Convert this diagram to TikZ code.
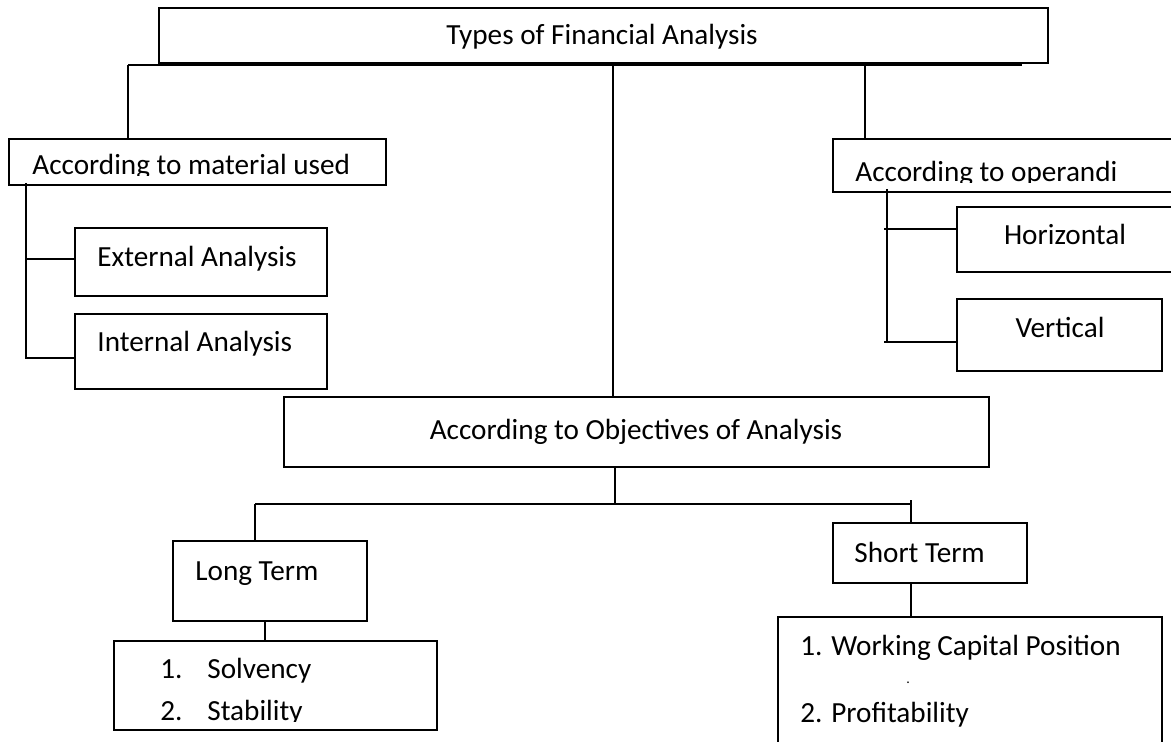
\documentclass[tikz,border=0pt]{standalone}
\usepackage{fontspec}
\setmainfont{Carlito}
\usetikzlibrary{calc}

\begin{document}
\begin{tikzpicture}[x=0.5pt,y=-0.5pt,
    box/.style={draw,line width=0.9pt,inner sep=0pt,outer sep=0pt},
    txt/.style={inner sep=0pt,anchor=base west,font=\fontsize{14.6pt}{17pt}\selectfont},
    link/.style={line width=0.8pt}]

% fix the page size
\clip (0,0) rectangle (1171,742);

% draw all boxes
\node[box,minimum width=444.5pt,minimum height=27.5pt] (top) at (603.5,35.5) {};
\node[box,minimum width=188.5pt,minimum height=23pt] (mat) at (197.5,162) {};
\node[box,minimum width=176pt,minimum height=26.5pt] (opr) at (1009,165.5) {};
\node[box,minimum width=126pt,minimum height=34pt] (ext) at (201,262) {};
\node[box,minimum width=126pt,minimum height=37.5pt] (int) at (201,351.5) {};
\node[box,minimum width=114pt,minimum height=32.5pt] (hor) at (1071,239.5) {};
\node[box,minimum width=102.5pt,minimum height=36pt] (ver) at (1059.5,335) {};
\node[box,minimum width=352.5pt,minimum height=35pt] (obj) at (636.5,432) {};
\node[box,minimum width=97pt,minimum height=40pt] (lt) at (270,581) {};
\node[box,minimum width=161.5pt,minimum height=44.5pt] (sol) at (275.5,685.5) {};
\node[box,minimum width=97pt,minimum height=30pt] (st) at (930,553) {};
\node[box,minimum width=192pt,minimum height=71.5pt] (wc) at (970,688.5) {};

% place the texts
\node[txt,anchor=base] (top-t) at (602,45) {Types of Financial Analysis};
\begin{scope}
  \clip (0,0) rectangle (1171,176);
  \node[txt] (mat-t) at (32,175) {According to material used};
\end{scope}
\begin{scope}
  \clip (0,0) rectangle (1171,183);
  \node[txt] (opr-t) at (855,182) {According to operandi};
\end{scope}
\node[txt] (ext-t) at (97,267) {External Analysis};
\node[txt] (int-t) at (97,352) {Internal Analysis};
\node[txt,anchor=base] (hor-t) at (1065,245) {Horizontal};
\node[txt,anchor=base] (ver-t) at (1060,338) {Vertical};
\node[txt,anchor=base] (obj-t) at (636,440) {According to Objectives of Analysis};
\node[txt] (lt-t) at (195,580) {Long Term};
\node[txt] (sol-n) at (160,678) {1.};
\node[txt] (sol-t) at (207,678) {Solvency};
\begin{scope}
  \clip (0,0) rectangle (1171,721);
  \node[txt] (stb-n) at (160,720) {2.};
  \node[txt] (stb-t) at (207,720) {Stability};
\end{scope}
\node[txt] (st-t) at (854,562) {Short Term};
\node[txt] (wc-t) at (800,655) {1. Working Capital Position};
\node[txt,font=\fontsize{7pt}{8pt}\selectfont] (wc-d) at (906,683) {.};
\node[txt] (wc-p) at (800,722) {2. Profitability};

% top level branches
\coordinate (tapL) at (128,65);
\coordinate (tapM) at (613,65);
\coordinate (tapR) at (865,65);
\coordinate (tapE) at (1022,65);
\draw[link] (tapL) -- (tapE);
\draw[link] (tapL) -- (tapL |- mat.north);
\draw[link] (tapM) -- (tapM |- obj.north);
\draw[link] (tapR) -- (tapR |- opr.north);

% material used
\coordinate (m0) at (26,183);
\coordinate (m1) at (26,259);
\coordinate (m2) at (26,358);
\draw[link] (m0) -- (m2) -- (m2 -| int.west);
\draw[link] (m1) -- (m1 -| ext.west);

% operandi
\coordinate (o0) at (887,189);
\coordinate (o1) at (884,229);
\coordinate (o2) at (884,342);
\draw[link] (o0) -- (o0 |- o2);
\draw[link] (o1) -- (o1 -| hor.west);
\draw[link] (o2) -- (o2 -| ver.west);

% objectives
\coordinate (j0) at (615,504);
\coordinate (jL) at (255,504);
\coordinate (jR) at (911,504);
\draw[link] (j0 |- obj.south) -- (j0);
\draw[link] (jL) -- (jR);
\draw[link] (jL) -- (jL |- lt.north);
\draw[link] ($(jR)+(0,-4)$) -- (jR |- st.north);
\coordinate (lx) at (265,0);
\draw[link] (lx |- lt.south) -- (lx |- sol.north);
\draw[link] (jR |- st.south) -- (jR |- wc.north);

\end{tikzpicture}
\end{document}
